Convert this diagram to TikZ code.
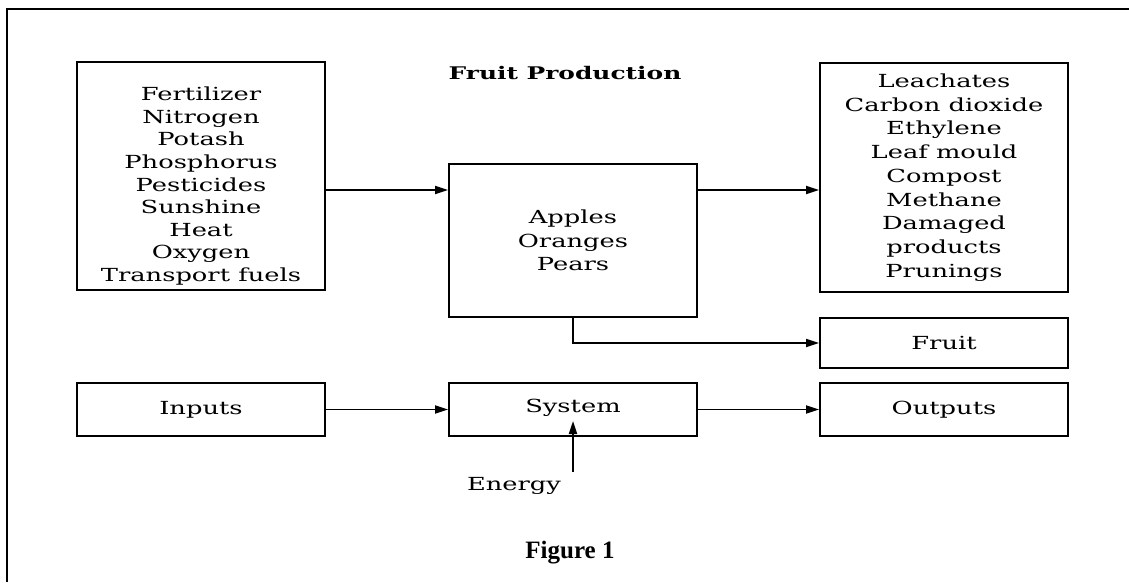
\documentclass[tikz,border=0pt]{standalone}
\usepackage{fontspec}
\setmainfont{DejaVu Serif}[FakeStretch=1.43]
\newfontfamily\capfont{Liberation Serif}
\usetikzlibrary{arrows.meta}

\tikzset{
  box/.style={draw, line width=1.9pt, inner sep=0pt, align=center,
              minimum width=248pt,
              font=\fontsize{18}{23.75}\selectfont},
  flow/.style={line width=1.8pt, -{Triangle[length=13pt,width=8pt]}},
  plain/.style={inner sep=0pt, font=\fontsize{18}{23.75}\selectfont}
}

\begin{document}
\begin{tikzpicture}[x=1pt,y=-1pt]
\useasboundingbox (0,0) rectangle (1129,582);

% open frame along the top and left edges
\draw[line width=1.9pt] (7,582) -- (7,9) -- (1129,9);

% title
\node[inner sep=0pt, font=\fontsize{17.4}{20}\selectfont\bfseries] (title) at (565,73) {Fruit Production};

% upper row: the fruit example
\node[box, minimum height=228pt, font=\fontsize{18}{22.6}\selectfont] (res) at (201,176)
  {\rule{0pt}{34pt}Fertilizer\\Nitrogen\\Potash\\Phosphorus\\Pesticides\\Sunshine\\Heat\\Oxygen\\Transport fuels};
\node[box, minimum height=153pt] (crop) at (573,240.5)
  {Apples\\Oranges\\Pears};
\node[box, minimum height=229pt] (waste) at (944,177.5)
  {Leachates\\Carbon dioxide\\Ethylene\\Leaf mould\\Compost\\Methane\\Damaged\\products\\Prunings};
\node[box, minimum height=50pt] (fruit) at (944,343) {Fruit};

\coordinate (flowy) at (0,190);
\draw[flow] (res.east |- flowy) -- (crop.west |- flowy);
\draw[flow] (crop.east |- flowy) -- (waste.west |- flowy);
\draw[flow] (crop.south) |- (fruit.west);

% lower row: the general system model
\node[box, minimum height=53pt] (inputs) at (201,409.5) {Inputs};
\node[box, minimum height=53pt, text depth=8pt] (system) at (573,409.5) {System};
\node[box, minimum height=53pt] (outputs) at (944,409.5) {Outputs};

\draw[flow] (inputs) -- (system);
\draw[flow] (system) -- (outputs);

\node[plain, anchor=base] (energy) at (514,490) {Energy};
\coordinate (etail) at (573,472);
\coordinate (ehead) at (573,421);
\draw[flow] (etail) -- (ehead);

% caption
\node[inner sep=0pt, anchor=base, font=\capfont\fontsize{25}{28}\selectfont\bfseries] (caption) at (570,558) {Figure 1};
\end{tikzpicture}
\end{document}
